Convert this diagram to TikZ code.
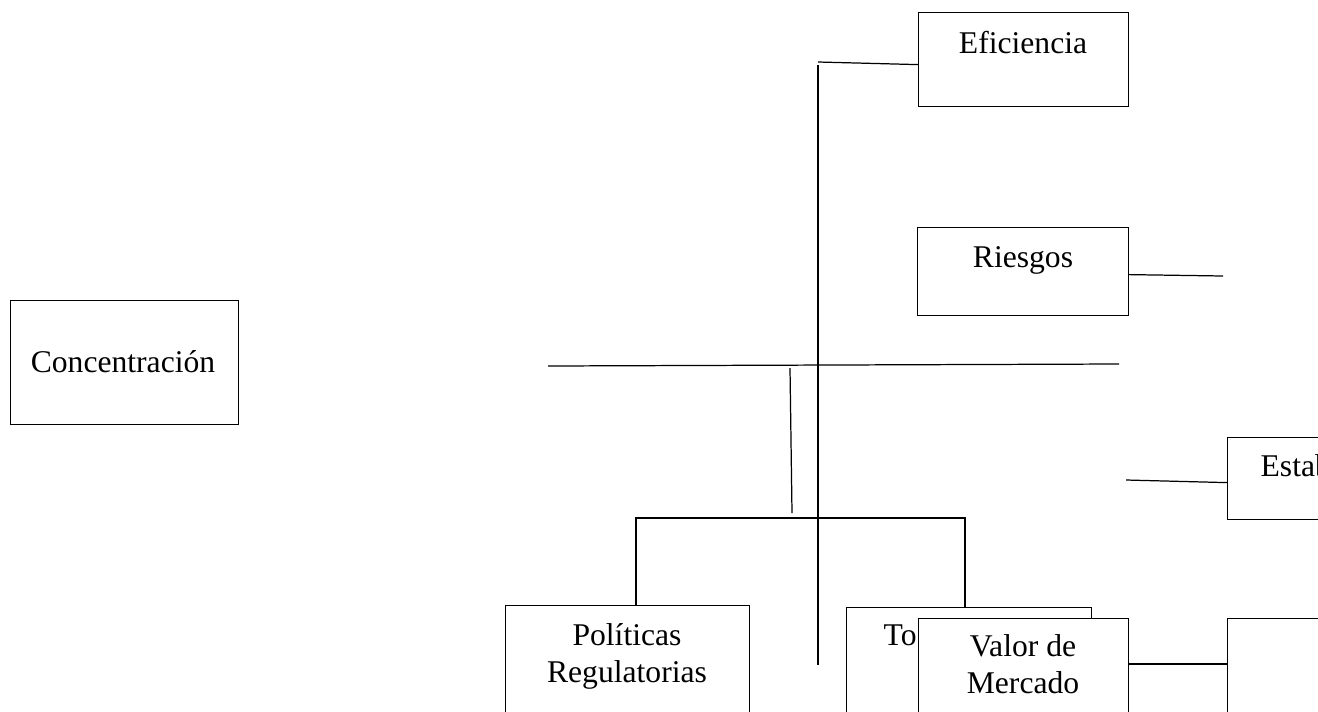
\documentclass[tikz,border=0pt]{standalone}
\usepackage{fontspec}
\setmainfont{Liberation Serif}

\begin{document}
\begin{tikzpicture}[x=0.02cm,y=-0.02cm,line width=0.7pt]
        \tikzstyle{every node}+=[inner sep=0pt,font=\fontsize{18}{21}\selectfont]
        \tikzstyle{caja}=[draw,fill=white,anchor=north west]
        \useasboundingbox (0,0) rectangle (1318,711);
        \clip (0,0) rectangle (1318,711);
        % cajas
        \node[caja,minimum width=4.56cm,minimum height=2.48cm] (conc) at (10,300) {};
        \node[anchor=base] (tConc) at (123,372) {Concentración};
        \node[caja,minimum width=4.2cm,minimum height=1.88cm] (efi) at (918,12) {};
        \node[anchor=base] (tEfi) at (1023,53) {Eficiencia};
        \node[caja,minimum width=4.22cm,minimum height=1.76cm] (ries) at (917,227) {};
        \node[anchor=base] (tRies) at (1023,267) {Riesgos};
        \node[caja,minimum width=3.6cm,minimum height=1.64cm] (estab) at (1227,437) {};
        \node[anchor=base west] (tEstab) at (1260,476) {Estabilidad};
        \node[caja,minimum width=4.88cm,minimum height=2.8cm] (pol) at (505,605) {};
        \node[anchor=base,align=center] (tPol) at (627,682) {Políticas\\Regulatorias};
        \node[caja,minimum width=4.9cm,minimum height=2.8cm] (tom) at (846,607) {};
        \node[anchor=base west] (tTom) at (883,645) {To};
        \node[caja,minimum width=4.2cm,minimum height=2.6cm] (valor) at (918,618) {};
        \node[anchor=base,align=center] (tValor) at (1023,693) {Valor de\\Mercado};
        \node[caja,minimum width=3.6cm,minimum height=2.6cm] (der) at (1227,618) {};
        % puntos libres
        \coordinate (e1) at (818,62);
        \coordinate (v1) at (818,65);
        \coordinate (v2) at (818,665);
        \coordinate (r1) at (1223,276);
        \coordinate (h1) at (548,366);
        \coordinate (h2) at (1119,364);
        \coordinate (s1) at (790,368);
        \coordinate (s2) at (792,513);
        \coordinate (b1) at (636,518);
        \coordinate (b2) at (965,518);
        \coordinate (m1) at (1126,480);
        % lineas
        \draw (e1) -- ([yshift=-0.1cm]efi.west);
        \draw (v1) -- (v2);
        \draw ([yshift=-0.06cm]ries.east) -- (r1);
        \draw (h1) -- (h2);
        \draw (s1) -- (s2);
        \draw (pol.north -| b1) -- (b1) -- (b2) -- (tom.north -| b2);
        \draw (m1) -- ([yshift=-0.08cm]estab.west);
        \draw ([yshift=-0.92cm]valor.north east) -- ([yshift=-0.92cm]der.north west);
\end{tikzpicture}
\end{document}
